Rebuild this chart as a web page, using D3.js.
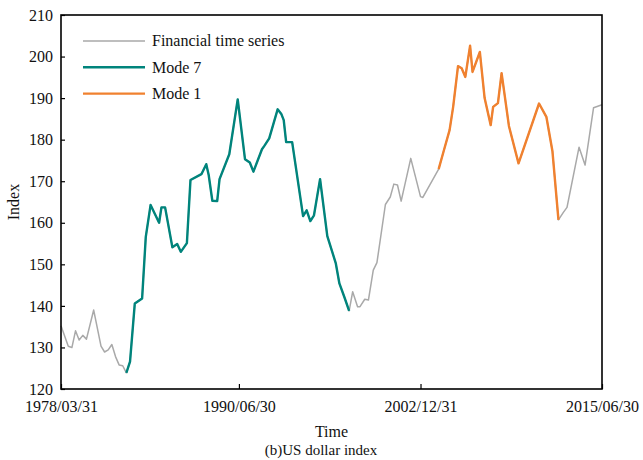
<!DOCTYPE html>
<html>
<head>
<meta charset="utf-8">
<script src="https://cdn.jsdelivr.net/npm/d3@7"></script>
<style>
  html, body { margin: 0; padding: 0; background: #fff; }
  svg { display: block; }
  text { font-family: "Liberation Serif", "Times New Roman", serif; fill: #111; }
</style>
</head>
<body>
<svg id="chart" width="643" height="460"></svg>
<script>
// US dollar index, month of observation and index level
const months = [
  "1978-03","1978-09","1978-12","1979-03","1979-06","1979-09","1979-12","1980-06","1980-12",
  "1981-03","1981-06","1981-09","1981-12","1982-03","1982-06","1982-09","1982-12","1983-04",
  "1983-10","1984-01","1984-05","1984-12","1985-02","1985-05","1985-11","1986-03","1986-06",
  "1986-11","1987-02","1987-11","1988-03","1988-05","1988-08","1988-12","1989-02","1989-10",
  "1990-05","1990-11","1991-03","1991-06","1992-01","1992-03","1992-07","1993-02","1993-05",
  "1993-07","1993-09","1994-02","1994-11","1995-02","1995-05","1995-08","1996-01","1996-07",
  "1997-02","1997-05","1997-09","1998-01","1998-04","1998-08","1998-10","1999-02","1999-05",
  "1999-09","1999-12","2000-07","2000-11","2001-02","2001-05","2001-08","2002-04","2002-12",
  "2003-02","2004-03","2004-07","2004-12","2005-03","2005-07","2005-10","2006-01","2006-05",
  "2006-07","2007-01","2007-05","2007-10","2007-12","2008-04","2008-07","2009-01","2009-09",
  "2011-02","2011-08","2012-01","2012-06","2012-10","2013-01","2013-11","2014-04","2014-11",
  "2015-06"
];
const indexValues = [
  135.2,130.3,130.0,134.0,131.8,132.9,132.0,139.0,130.3,
  128.9,129.4,130.7,127.8,125.8,125.6,123.9,126.6,140.6,
  141.8,156.6,164.3,160.0,163.7,163.7,154.1,154.9,153.0,
  155.1,170.3,171.7,174.1,171.5,165.3,165.2,170.5,176.5,
  189.7,175.3,174.5,172.3,177.7,178.5,180.3,187.3,186.2,
  184.7,179.4,179.4,161.6,163.0,160.4,161.8,170.5,156.8,
  150.3,145.4,142.2,138.8,143.4,139.8,139.8,141.6,141.4,
  148.6,150.4,164.4,166.2,169.3,169.1,165.2,175.5,166.3,
  166.1,172.9,177.1,182.3,187.9,197.7,197.2,195.1,202.6,
  196.3,201.1,190.0,183.5,187.9,188.8,196.0,183.3,174.3,
  188.7,185.5,177.2,160.7,162.5,163.7,178.2,173.9,187.7,
  188.4
];

// Spans of the series highlighted by each mode (first and last month)
const mode7Span = ["1982-09", "1998-01"];
const mode1Span = ["2004-03", "2012-06"];

const seriesNames = ["Financial time series", "Mode 7", "Mode 1"];
const seriesColors = ["#a9a9a9", "#00847c", "#f0812f"];

const xTickDates = ["1978-03-31", "1990-06-30", "2002-12-31", "2015-06-30"];
const xTickLabels = ["1978/03/31", "1990/06/30", "2002/12/31", "2015/06/30"];
const yTicks = [120, 130, 140, 150, 160, 170, 180, 190, 200, 210];

const parseMonth = d3.timeParse("%Y-%m");
const parseDay = d3.timeParse("%Y-%m-%d");
// Observations are dated at month end
const monthEnd = s => d3.timeDay.offset(d3.timeMonth.offset(parseMonth(s), 1), -1);

const data = months.map((m, i) => ({ key: m, date: monthEnd(m), value: indexValues[i] }));
const inSpan = span => data.filter(d => d.key >= span[0] && d.key <= span[1]);

const margin = { top: 15, right: 41, bottom: 71, left: 61 };
const W = 643, H = 460;
const innerW = W - margin.left - margin.right;
const innerH = H - margin.top - margin.bottom;

const svg = d3.select("#chart");
const g = svg.append("g").attr("transform", `translate(${margin.left},${margin.top})`);

const x = d3.scaleTime()
  .domain([parseDay(xTickDates[0]), parseDay(xTickDates[xTickDates.length - 1])])
  .range([0, innerW]);
const y = d3.scaleLinear().domain([120, 210]).range([innerH, 0]);

const line = d3.line().x(d => x(d.date)).y(d => y(d.value));

// Series lines
g.append("path").datum(data)
  .attr("fill", "none").attr("stroke", seriesColors[0]).attr("stroke-width", 1.5)
  .attr("stroke-linejoin", "round").attr("d", line);
g.append("path").datum(inSpan(mode7Span))
  .attr("fill", "none").attr("stroke", seriesColors[1]).attr("stroke-width", 2.4)
  .attr("stroke-linejoin", "round").attr("d", line);
g.append("path").datum(inSpan(mode1Span))
  .attr("fill", "none").attr("stroke", seriesColors[2]).attr("stroke-width", 2.4)
  .attr("stroke-linejoin", "round").attr("d", line);

// Axes with inward ticks
const yAxis = d3.axisLeft(y).tickValues(yTicks).tickSizeInner(-4).tickSizeOuter(0).tickPadding(8);
const yG = g.append("g").call(yAxis);
yG.select(".domain").remove();
yG.selectAll("line").attr("stroke", "#000").attr("stroke-width", 1.2);
yG.selectAll("text").style("font-size", "16px").style("font-family", "Liberation Serif, serif").attr("fill", "#111");

const xAxis = d3.axisBottom(x)
  .tickValues(xTickDates.map(parseDay))
  .tickFormat((d, i) => xTickLabels[i])
  .tickSizeInner(-5).tickSizeOuter(0).tickPadding(12);
const xG = g.append("g").attr("transform", `translate(0,${innerH})`).call(xAxis);
xG.select(".domain").remove();
xG.selectAll("line").attr("stroke", "#000").attr("stroke-width", 1.2);
xG.selectAll("text").style("font-size", "16px").style("font-family", "Liberation Serif, serif").attr("fill", "#111");

// Plot frame
g.append("rect").attr("x", 0).attr("y", 0).attr("width", innerW).attr("height", innerH)
  .attr("fill", "none").attr("stroke", "#000").attr("stroke-width", 1.6);

// Legend
const legend = g.append("g").attr("transform", "translate(22,26)");
seriesNames.forEach((name, i) => {
  const row = legend.append("g").attr("transform", `translate(0,${i * 26.3})`);
  row.append("line").attr("x1", 0).attr("x2", 62).attr("y1", 0).attr("y2", 0)
    .attr("stroke", seriesColors[i]).attr("stroke-width", i === 0 ? 1.5 : 2.4);
  row.append("text").attr("x", 69).attr("y", 0).attr("dy", "0.33em")
    .style("font-size", "16px").text(name);
});

// Axis titles and caption
svg.append("text").attr("x", margin.left + innerW / 2).attr("y", 437)
  .attr("text-anchor", "middle").style("font-size", "16px").text("Time");
svg.append("text").attr("transform", `translate(19,${margin.top + innerH / 2}) rotate(-90)`)
  .attr("text-anchor", "middle").style("font-size", "16px").text("Index");
svg.append("text").attr("x", 321).attr("y", 455)
  .attr("text-anchor", "middle").style("font-size", "15px").text("(b)US dollar index");
</script>
</body>
</html>
